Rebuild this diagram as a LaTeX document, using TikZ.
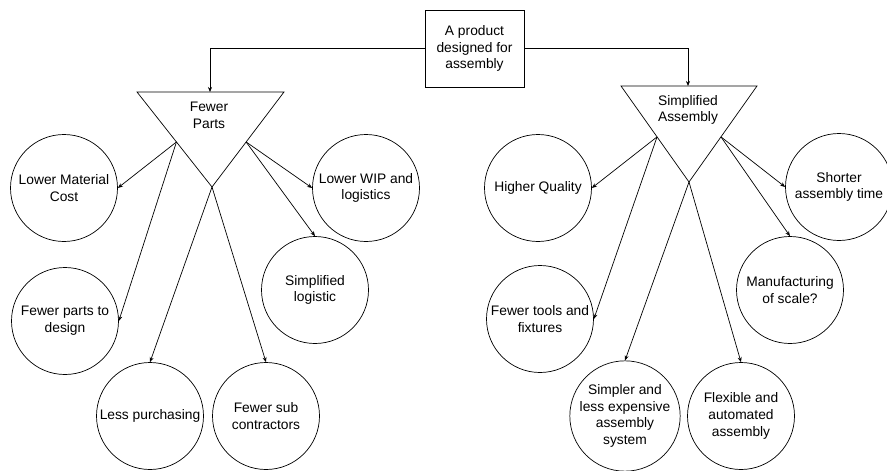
\documentclass[tikz,border=0pt]{standalone}
\usepackage{fontspec}
\setmainfont{Liberation Sans}
\usetikzlibrary{arrows.meta,calc}
\begin{document}
\begin{tikzpicture}[x=1pt,y=-1pt,
  every node/.style={font=\fontsize{13.8}{16.7}\selectfont, align=center, inner sep=0pt},
  bub/.style={draw, circle, minimum size=107pt, line width=0.7pt},
  conn/.style={line width=0.7pt, -{Stealth[length=5pt,width=4pt]}},
  tri/.style={draw, line width=0.7pt, line join=miter}
]
\useasboundingbox (0,0) rectangle (887,471);

% top box
\node[draw, line width=0.7pt, minimum width=99pt, minimum height=77pt] (top) at (474.5,48.5) {A product\\designed for\\assembly};

% left triangle
\coordinate (L1) at (137,92);
\coordinate (L2) at (284,92);
\coordinate (La) at (212,187);
\draw[tri] (L1) -- (L2) -- (La) -- cycle;
\node (fp) at (209,115) {Fewer\\Parts};
\coordinate (Lin) at (210,92);
\coordinate (Ll) at ($(L1)!0.526!(La)$);
\coordinate (Lr) at ($(L2)!0.526!(La)$);

% right triangle
\coordinate (R1) at (621,86);
\coordinate (R2) at (757,86);
\coordinate (Ra) at (689,182);
\draw[tri] (R1) -- (R2) -- (Ra) -- cycle;
\node (sa) at (688,110) {Simplified\\Assembly};
\coordinate (Rin) at (688,86);
\coordinate (Rl) at ($(R1)!0.53!(Ra)$);
\coordinate (Rr) at ($(R2)!0.53!(Ra)$);

% circles left
\node[bub] (lmc) at (64,188) {Lower Material\\Cost};
\node[bub] (fpd) at (65,321) {Fewer parts to\\design};
\node[bub] (lp) at (150,416) {Less purchasing};
\node[bub] (fsc) at (266,416) {Fewer sub\\contractors};
\node[bub] (sl) at (315,290) {Simplified\\logistic};
\node[bub] (lwip) at (366,188) {Lower WIP and\\logistics};

% circles right
\node[bub] (hq) at (538,188) {Higher Quality};
\node[bub] (ftf) at (540,319) {Fewer tools and\\fixtures};
\node[bub] (sle) at (625,416) {Simpler and\\less expensive\\assembly\\system};
\node[bub] (fa) at (741,416) {Flexible and\\automated\\assembly};
\node[bub] (mos) at (790,290) {Manufacturing\\of scale?};
\node[bub] (sat) at (839,187) {Shorter\\assembly time};

% connectors
\draw[conn] (top.west) -| (Lin);
\draw[conn] (top.east) -| (Rin);

\draw[conn] (Ll) -- (lmc.east);
\draw[conn] (Ll) -- (fpd.east);
\draw[conn] (La) -- (lp.north);
\draw[conn] (La) -- (fsc.north);
\draw[conn] (Lr) -- (lwip.west);
\draw[conn] (Lr) -- (sl.north);

\draw[conn] (Rl) -- (hq.east);
\draw[conn] (Rl) -- (ftf.east);
\draw[conn] (Ra) -- (sle.north);
\draw[conn] (Ra) -- (fa.north);
\draw[conn] (Rr) -- (sat.west);
\draw[conn] (Rr) -- (mos.north);
\end{tikzpicture}
\end{document}
